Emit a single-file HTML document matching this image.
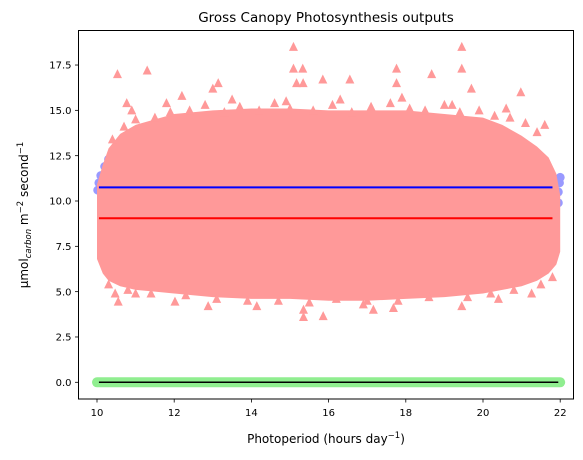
<!DOCTYPE html>
<html><head><meta charset="utf-8"><style>
html,body{margin:0;padding:0;background:#fff}
svg{display:block;font-family:"DejaVu Sans","Liberation Sans",sans-serif}
</style></head><body>
<svg id="chart" width="583" height="460" viewBox="0 0 583 460" xmlns="http://www.w3.org/2000/svg">
<text x="326" y="22" font-size="13.5" text-anchor="middle">Gross Canopy Photosynthesis outputs</text>
<g id="plot"></g>
<rect x="78.5" y="30.5" width="495" height="368.5" fill="none" stroke="#000" stroke-width="1"/>
<g id="xt"></g>
<g id="yt"></g>
<text x="326" y="443" font-size="12" text-anchor="middle">Photoperiod (hours day<tspan font-size="8.5" dy="-5">−1</tspan><tspan dy="5">)</tspan></text>
<text transform="translate(28,215) rotate(-90)" font-size="12" text-anchor="middle">μmol<tspan font-size="8.5" font-style="italic" dy="3">carbon</tspan><tspan dy="-3"> m</tspan><tspan font-size="8.5" dy="-5">−2</tspan><tspan dy="5"> second</tspan><tspan font-size="8.5" dy="-5">−1</tspan></text>
</svg>
<script>
const xTicks=[10,12,14,16,18,20,22];
const yTicks=[0,2.5,5,7.5,10,12.5,15,17.5];
const envX=[10,10.15,10.3,10.6,11,11.5,12,13,14,15,16,17,18,19,20,20.5,21,21.4,21.7,21.9,22];
const envUpper=[10.9,12.0,12.9,13.7,14.2,14.5,14.8,15.0,15.1,15.1,15.0,15.0,15.0,14.8,14.6,14.2,13.6,13.0,12.4,11.5,10.3];
const envLower=[6.8,6.0,5.6,5.3,5.1,5.0,4.9,4.7,4.6,4.6,4.5,4.5,4.6,4.7,4.9,5.1,5.3,5.6,6.0,6.5,7.2];
const outX=[10.53,11.3,15.09,15.09,15.33,15.17,15.34,13.14,13.0,12.2,10.77,15.85,19.45,19.45,17.76,18.67,16.55,17.76,19.7,20.98,21.6,10.55,10.47,12.88,15.35,15.35,15.86,17.16,17.68,19.45,21.26,14.14,12.02,11.0,16.9,20.4,
 10.4,10.7,11.0,11.5,11.9,12.4,12.8,13.3,13.7,14.2,14.6,15.0,15.6,16.1,16.6,17.1,17.6,18.1,18.5,19.0,19.4,19.9,20.3,20.7,21.1,21.4,10.9,11.8,13.5,14.9,16.3,17.9,19.2,20.6,
 10.3,10.8,11.4,12.3,13.1,13.9,14.7,15.5,16.2,17.0,17.8,18.6,19.6,20.2,20.8,21.5,21.8];
const outY=[17.0,17.2,18.5,17.3,17.3,16.5,16.5,16.5,16.2,15.8,15.4,16.7,18.5,17.3,17.3,17.0,16.7,16.5,16.2,16.0,14.2,4.45,4.9,4.2,4.0,3.6,3.65,4.0,4.1,4.2,4.9,4.2,4.45,4.9,4.3,4.6,
 13.4,14.1,14.5,14.6,14.9,15.0,15.3,14.9,15.2,15.0,15.4,15.1,15.0,15.3,14.9,15.2,15.4,15.1,15.0,15.3,14.9,15.0,14.7,14.6,14.3,13.8,15.0,15.4,15.6,15.5,15.6,15.7,15.3,15.1,
 5.4,5.1,4.9,4.8,4.6,4.5,4.5,4.4,4.6,4.5,4.5,4.7,4.7,4.9,5.1,5.4,5.8];
const blueX=[10.02,10.05,10.1,10.2,10.3,21.95,21.98,22.0,21.95];
const blueY=[10.6,11.0,11.4,11.9,12.3,10.5,11.0,11.3,9.9];
const meanBlue=10.75, meanRed=9.05, zeroVal=0;
const lineStart=10.05, lineEnd=21.8;

const X=v=>97+(v-10)*38.6;
const Y=v=>382.3-v*18.13;
const NS="http://www.w3.org/2000/svg";
const plot=document.getElementById('plot');
function mk(tag,attrs,parent){const e=document.createElementNS(NS,tag);for(const k in attrs)e.setAttribute(k,attrs[k]);(parent||plot).appendChild(e);return e;}

blueX.forEach((x,i)=>{
  const c=mk('circle',{cx:X(x),cy:Y(blueY[i]),r:4.5,fill:'#9999ff'});
  
  
});
let pts=envX.map((x,i)=>X(x)+','+Y(envUpper[i]));
for(let i=envX.length-1;i>=0;i--)pts.push(X(envX[i])+','+Y(envLower[i]));
const poly=mk('polygon',{points:pts.join(' '),fill:'#ff9999'});


outX.forEach((x,i)=>{
  const cx=X(x),cy=Y(outY[i]);
  const t=mk('polygon',{points:`${cx},${cy-5} ${cx-4.5},${cy+4} ${cx+4.5},${cy+4}`,fill:'#ff9999'});
  
  
});
const lb=mk('line',{x1:X(lineStart),x2:X(lineEnd),y1:Y(meanBlue),y2:Y(meanBlue),stroke:'#0000ff','stroke-width':2});


const lr=mk('line',{x1:X(lineStart),x2:X(lineEnd),y1:Y(meanRed),y2:Y(meanRed),stroke:'#ff0000','stroke-width':2});


const lg=mk('line',{x1:X(10),x2:X(22),y1:Y(zeroVal),y2:Y(zeroVal),stroke:'#90ee90','stroke-width':10,'stroke-linecap':'round'});


const lk=mk('line',{x1:X(10.05),x2:X(21.95),y1:Y(zeroVal),y2:Y(zeroVal),stroke:'#000','stroke-width':1.5});



const xt=document.getElementById('xt'),yt=document.getElementById('yt');
xTicks.forEach(v=>{
  const l=mk('line',{x1:X(v),x2:X(v),y1:399,y2:402.5,stroke:'#000','stroke-width':0.8},xt);
  
  
  const t=mk('text',{x:X(v),y:416,'font-size':10,'text-anchor':'middle'},xt);
  t.textContent=v;
  
  
});
yTicks.forEach(v=>{
  const l=mk('line',{x1:75,x2:78.5,y1:Y(v),y2:Y(v),stroke:'#000','stroke-width':0.8},yt);
  
  
  const t=mk('text',{x:71.5,y:Y(v)+3.6,'font-size':10,'text-anchor':'end'},yt);
  t.textContent=v.toFixed(1);
  
  
});
</script>
</body></html>
